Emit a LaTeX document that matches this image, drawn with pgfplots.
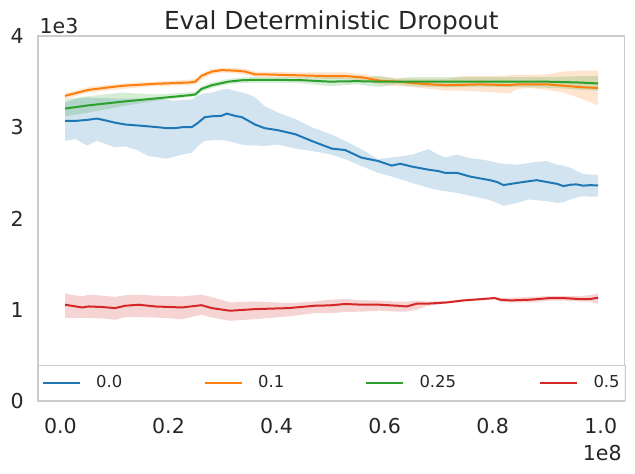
\documentclass[border=0pt]{standalone}
\usepackage{fontspec}
\setmainfont{DejaVu Sans}
\usepackage{pgfplots}
\pgfplotsset{compat=1.18}
\usepackage{pgfplotstable}
\usepgfplotslibrary{fillbetween}
\definecolor{c0}{HTML}{1F77B4}
\definecolor{c1}{HTML}{FF7F0E}
\definecolor{c2}{HTML}{2CA02C}
\definecolor{c3}{HTML}{D62728}
\definecolor{txt}{HTML}{262626}
\definecolor{edge}{HTML}{CCCCCC}

\pgfplotstableread{
x m lo hi
0.0085 3.07 2.85 3.27
0.028 3.07 2.87 3.31
0.049 3.08 2.80 3.325
0.067 3.095 2.85 3.32
0.082 3.077 2.82 3.32
0.101 3.05 2.78 3.315
0.120 3.03 2.79 3.315
0.142 3.02 2.75 3.315
0.162 3.01 2.685 3.315
0.181 3.00 2.67 3.315
0.197 2.99 2.655 3.30
0.212 2.99 2.68 3.29
0.225 3.00 2.70 3.30
0.243 3.00 2.72 3.305
0.255 3.05 2.80 3.35
0.267 3.11 2.85 3.37
0.280 3.12 2.857 3.38
0.298 3.125 2.86 3.41
0.308 3.15 2.85 3.42
0.323 3.125 2.83 3.40
0.336 3.11 2.81 3.38
0.348 3.07 2.80 3.36
0.360 3.03 2.80 3.33
0.378 2.99 2.795 3.23
0.403 2.967 2.81 3.16
0.435 2.923 2.766 3.09
0.465 2.85 2.74 3.00
0.502 2.766 2.70 2.92
0.527 2.75 2.65 2.85
0.557 2.667 2.575 2.76
0.588 2.63 2.50 2.65
0.613 2.58 2.46 2.67
0.629 2.60 2.43 2.68
0.651 2.568 2.39 2.70
0.681 2.535 2.337 2.76
0.699 2.52 2.31 2.70
0.712 2.50 2.30 2.67
0.734 2.50 2.28 2.70
0.758 2.46 2.25 2.66
0.776 2.44 2.227 2.65
0.795 2.42 2.20 2.63
0.808 2.40 2.17 2.61
0.820 2.366 2.14 2.60
0.845 2.39 2.17 2.59
0.869 2.41 2.21 2.61
0.881 2.42 2.20 2.62
0.900 2.40 2.19 2.63
0.919 2.38 2.17 2.59
0.931 2.355 2.18 2.58
0.944 2.37 2.21 2.556
0.955 2.374 2.23 2.52
0.967 2.36 2.245 2.49
0.980 2.365 2.24 2.48
0.995 2.363 2.24 2.48
}\tblue

\pgfplotstableread{
x m lo hi
0.0085 3.344 3.31 3.37
0.052 3.41 3.38 3.44
0.114 3.454 3.42 3.48
0.175 3.476 3.45 3.50
0.237 3.49 3.46 3.52
0.250 3.50 3.47 3.53
0.261 3.564 3.53 3.59
0.280 3.61 3.58 3.64
0.298 3.626 3.60 3.65
0.323 3.62 3.59 3.65
0.342 3.61 3.58 3.64
0.360 3.58 3.55 3.61
0.372 3.58 3.55 3.61
0.435 3.57 3.54 3.60
0.496 3.56 3.53 3.60
0.529 3.56 3.53 3.60
0.560 3.546 3.51 3.58
0.591 3.51 3.47 3.55
0.623 3.50 3.45 3.54
0.653 3.484 3.44 3.53
0.684 3.47 3.42 3.53
0.715 3.46 3.40 3.53
0.746 3.465 3.40 3.56
0.776 3.47 3.39 3.56
0.808 3.465 3.38 3.56
0.832 3.46 3.37 3.57
0.845 3.47 3.42 3.57
0.869 3.47 3.43 3.57
0.900 3.47 3.41 3.58
0.931 3.455 3.38 3.61
0.961 3.44 3.32 3.62
0.995 3.43 3.24 3.62
}\torange

\pgfplotstableread{
x m lo hi
0.0085 3.205 3.12 3.31
0.052 3.24 3.16 3.34
0.114 3.28 3.23 3.38
0.175 3.315 3.29 3.36
0.237 3.35 3.33 3.38
0.250 3.36 3.34 3.39
0.261 3.42 3.39 3.45
0.280 3.46 3.43 3.49
0.311 3.50 3.47 3.53
0.336 3.515 3.485 3.545
0.360 3.52 3.49 3.55
0.399 3.52 3.49 3.55
0.449 3.515 3.48 3.55
0.498 3.50 3.45 3.555
0.548 3.505 3.47 3.54
0.591 3.50 3.44 3.565
0.623 3.50 3.47 3.53
0.647 3.50 3.45 3.55
0.696 3.50 3.44 3.55
0.746 3.50 3.44 3.55
0.795 3.50 3.44 3.55
0.845 3.50 3.44 3.55
0.894 3.50 3.435 3.55
0.931 3.495 3.425 3.555
0.961 3.49 3.41 3.56
0.995 3.48 3.40 3.565
}\tgreen

\pgfplotstableread{
x m lo hi
0.0085 1.055 0.908 1.176
0.040 1.025 0.91 1.146
0.052 1.036 0.908 1.165
0.077 1.03 0.905 1.155
0.101 1.018 0.89 1.14
0.120 1.044 0.92 1.16
0.145 1.055 0.918 1.165
0.175 1.036 0.916 1.154
0.225 1.025 0.897 1.146
0.261 1.05 0.945 1.165
0.280 1.018 0.915 1.14
0.314 0.989 0.879 1.08
0.360 1.007 0.897 1.091
0.422 1.018 0.927 1.073
0.471 1.044 0.963 1.091
0.499 1.048 0.963 1.11
0.527 1.063 0.975 1.117
0.560 1.055 0.98 1.105
0.591 1.055 0.99 1.10
0.623 1.044 0.98 1.09
0.641 1.036 0.98 1.09
0.659 1.066 1.00 1.10
0.678 1.066 1.04 1.09
0.715 1.08 1.07 1.095
0.746 1.102 1.09 1.115
0.804 1.128 1.115 1.14
0.814 1.11 1.09 1.13
0.832 1.102 1.08 1.13
0.869 1.11 1.08 1.14
0.906 1.128 1.10 1.15
0.931 1.128 1.10 1.15
0.961 1.117 1.09 1.15
0.980 1.117 1.09 1.16
0.995 1.132 1.066 1.18
}\tred

\begin{document}
\begin{tikzpicture}
\begin{axis}[
  name=ax, at={(0,0)}, anchor=south west,
  scale only axis, width=439.9pt, height=273.75pt,
  xmin=-0.0415, xmax=1.044, ymin=0, ymax=4,
  axis line style={edge, line width=1pt},
  major tick length=0pt,
  xtick={0,0.2,0.4,0.6,0.8,1.0}, xticklabels={0.0,0.2,0.4,0.6,0.8,1.0},
  ytick={0,1,2,3,4}, yticklabels={0,1,2,3,4},
  tick label style={font=\fontsize{15.4}{18}\selectfont, text=txt},
  xticklabel style={inner sep=0pt, yshift=-12.75pt},
  yticklabel style={inner sep=0pt, xshift=-10.5pt},
  title={Eval Deterministic Dropout},
  title style={font=\fontsize{18.6}{22}\selectfont, text=txt, at={(0.5,1)}, anchor=base, yshift=-1.1pt, inner sep=0pt},
  legend columns=4,
  legend cell align=left,
  legend style={at={(0,0)}, anchor=south west, draw=edge, line width=0.75pt,
    fill=white, fill opacity=0.8, text opacity=1,
    inner xsep=2.25pt, inner ysep=7.9pt,
    nodes={inner xsep=0pt, inner ysep=0pt, text=txt},
    font=\fontsize{12.3}{14}\selectfont},
  legend image code/.code={\draw[#1] (0pt,0pt) -- (28pt,0pt);},
]
% 0.0
\addplot[draw=none, name path=bh, forget plot] table[x=x,y=hi]{\tblue};
\addplot[draw=none, name path=bl, forget plot] table[x=x,y=lo]{\tblue};
\addplot[fill=c0, fill opacity=0.2, draw=none, forget plot] fill between[of=bh and bl];
\addplot[c0, line width=1.5pt] table[x=x,y=m]{\tblue};
\addlegendentry{\hspace*{11.5pt}\makebox[80.5pt][l]{0.0}}
% 0.1
\addplot[draw=none, name path=oh, forget plot] table[x=x,y=hi]{\torange};
\addplot[draw=none, name path=ol, forget plot] table[x=x,y=lo]{\torange};
\addplot[fill=c1, fill opacity=0.2, draw=none, forget plot] fill between[of=oh and ol];
\addplot[c1, line width=1.5pt] table[x=x,y=m]{\torange};
\addlegendentry{\hspace*{11.5pt}\makebox[80pt][l]{0.1}}
% 0.25
\addplot[draw=none, name path=gh, forget plot] table[x=x,y=hi]{\tgreen};
\addplot[draw=none, name path=gl, forget plot] table[x=x,y=lo]{\tgreen};
\addplot[fill=c2, fill opacity=0.2, draw=none, forget plot] fill between[of=gh and gl];
\addplot[c2, line width=1.5pt] table[x=x,y=m]{\tgreen};
\addlegendentry{\hspace*{11.5pt}\makebox[89.5pt][l]{0.25}}
% 0.5
\addplot[draw=none, name path=rh, forget plot] table[x=x,y=hi]{\tred};
\addplot[draw=none, name path=rl, forget plot] table[x=x,y=lo]{\tred};
\addplot[fill=c3, fill opacity=0.2, draw=none, forget plot] fill between[of=rh and rl];
\addplot[c3, line width=1.5pt] table[x=x,y=m]{\tred};
\addlegendentry{\hspace*{11.5pt}\makebox[21.9pt][l]{0.5}}
\end{axis}
\node[anchor=base west, inner sep=0pt, font=\fontsize{15.4}{18}\selectfont, text=txt] at ([xshift=1pt,yshift=2pt]ax.north west) {1e3};
\node[anchor=north east, inner sep=0pt, font=\fontsize{15.4}{18}\selectfont, text=txt] at ([xshift=-2pt,yshift=-33pt]ax.south east) {1e8};
\pgfresetboundingbox
\path[use as bounding box] (-28.5pt,-54.75pt) rectangle (447.75pt,300.75pt);
\end{tikzpicture}
\end{document}
